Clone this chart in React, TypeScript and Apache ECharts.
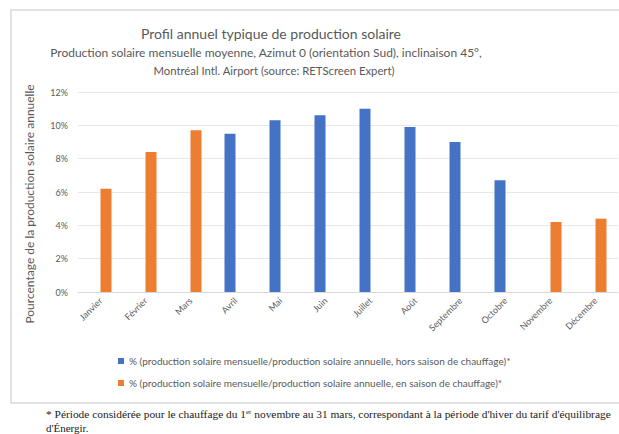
import React, { useEffect, useRef } from "react";
import * as echarts from "echarts";

const months = ["Janvier", "Février", "Mars", "Avril", "Mai", "Juin", "Juillet", "Août", "Septembre", "Octobre", "Novembre", "Décembre"];
const horsSaison = [null, null, null, 9.5, 10.3, 10.6, 11.0, 9.9, 9.0, 6.7, null, null];
const enSaison = [6.2, 8.4, 9.7, null, null, null, null, null, null, null, 4.2, 4.4];
const seriesNames = [
  "% (production solaire mensuelle/production solaire annuelle, hors saison de chauffage)*",
  "% (production solaire mensuelle/production solaire annuelle, en saison de chauffage)*",
];
const titleText = "Profil annuel typique de production solaire";
const subLines = [
  "Production solaire mensuelle moyenne, Azimut 0 (orientation Sud), inclinaison 45°,",
  "Montréal Intl. Airport (source: RETScreen Expert)",
];
const yName = "Pourcentage de la production solaire annuelle";

export default function App() {
  const ref = useRef<HTMLDivElement>(null);
  useEffect(() => {
    document.body.style.margin = "0";
    const chart = echarts.init(ref.current!, null, { renderer: "svg" });
    const gray = "#595959";
    const font = "Lato";
    chart.setOption({
      animation: false,
      backgroundColor: "#ffffff",
      textStyle: { fontFamily: font },
      grid: { left: 78, right: 1, top: 92, bottom: 142, containLabel: false },
      legend: {
        orient: "vertical",
        left: 113,
        top: 351,
        itemGap: 12,
        itemWidth: 6,
        itemHeight: 6,
        icon: "rect",
        textStyle: { color: gray, fontSize: 10, fontFamily: font },
        data: seriesNames,
      },
      xAxis: {
        type: "category",
        data: months,
        axisTick: { show: false },
        axisLine: { lineStyle: { color: "#d9d9d9" } },
        axisLabel: { rotate: 45, interval: 0, fontSize: 9, color: gray, margin: 7, fontFamily: font },
      },
      yAxis: {
        type: "value",
        min: 0,
        max: 12,
        interval: 2,
        axisLine: { show: false },
        axisTick: { show: false },
        axisLabel: { formatter: "{value}%", fontSize: 9, color: gray, margin: 10, fontFamily: font },
        splitLine: { lineStyle: { color: "#e8e8e8" } },
      },
      series: [
        { name: seriesNames[0], type: "bar", data: horsSaison, barWidth: 11, barGap: "0%", itemStyle: { color: "#4472C4" } },
        { name: seriesNames[1], type: "bar", data: enSaison, barWidth: 11, barGap: "0%", itemStyle: { color: "#ED7D31" } },
      ],
      graphic: [
        { type: "rect", shape: { x: 11, y: 10, width: 640, height: 393 }, style: { fill: "none", stroke: "#d9d9d9", lineWidth: 1.5 }, silent: true, z: -1 },
        { type: "text", x: 271, y: 33, style: { text: titleText, fill: gray, fontSize: 14, fontFamily: font, align: "center", verticalAlign: "middle" } },
        { type: "text", x: 266, y: 52, style: { text: subLines[0], fill: gray, fontSize: 12, fontFamily: font, align: "center", verticalAlign: "middle" } },
        { type: "text", x: 274, y: 70, style: { text: subLines[1], fill: gray, fontSize: 11.3, fontFamily: font, align: "center", verticalAlign: "middle" } },
        { type: "text", x: 29, y: 204, rotation: Math.PI / 2, style: { text: yName, fill: gray, fontSize: 12, fontFamily: font, align: "center", verticalAlign: "middle" } },
        {
          type: "text", x: 46, y: 414,
          style: {
            text: "* Période considérée pour le chauffage du 1{sup|er} novembre au 31 mars, correspondant à la période d'hiver du tarif d'équilibrage",
            fill: "#1a1a1a", fontSize: 11.4, fontFamily: "Liberation Serif", verticalAlign: "middle",
            rich: { sup: { fontSize: 7, verticalAlign: "top", fill: "#1a1a1a", fontFamily: "Liberation Serif" } },
          },
        },
        { type: "text", x: 46, y: 433, style: { text: "d'Énergir.", fill: "#1a1a1a", fontSize: 11, fontFamily: "Liberation Serif", verticalAlign: "bottom" } },
      ],
    });
    return () => chart.dispose();
  }, []);
  return <div ref={ref} style={{ position: "fixed", left: 0, top: 0, width: 619, height: 434 }} />;
}
